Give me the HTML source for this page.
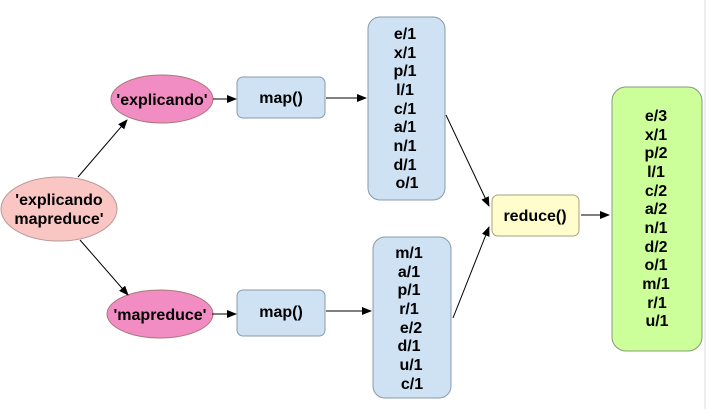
<!DOCTYPE html>
<html><head><style>
body{margin:0;background:#fff;width:710px;height:409px;overflow:hidden;font-family:"Liberation Sans",sans-serif;}
</style></head><body>
<svg width="710" height="409" xmlns="http://www.w3.org/2000/svg" font-family="Liberation Sans, sans-serif" font-weight="bold" font-size="16">
<defs><marker id="a" markerWidth="10" markerHeight="8" refX="9" refY="4" orient="auto" markerUnits="userSpaceOnUse"><path d="M0,0 L10,4 L0,8 z" fill="#000"/></marker></defs>
<line x1="705" y1="0" x2="705" y2="409" stroke="#ddd"/>
<ellipse cx="59" cy="209" rx="58" ry="32" fill="#f9c6c4" stroke="#b99"/>
<text x="59" y="205" text-anchor="middle">'explicando</text>
<text x="59" y="224" text-anchor="middle">mapreduce'</text>
<ellipse cx="162" cy="99" rx="51" ry="24" fill="#f28dc3" stroke="#a77"/>
<text x="162" y="105" text-anchor="middle">'explicando'</text>
<ellipse cx="160" cy="314" rx="53" ry="24" fill="#f28dc3" stroke="#a77"/>
<text x="160" y="320" text-anchor="middle">'mapreduce'</text>
<rect x="237" y="77" width="88" height="41" rx="6" fill="#cfe2f3" stroke="#8899aa"/>
<text x="281" y="103" text-anchor="middle">map()</text>
<rect x="237" y="290" width="88" height="46" rx="6" fill="#cfe2f3" stroke="#8899aa"/>
<text x="281" y="317" text-anchor="middle">map()</text>
<rect x="368" y="17" width="77" height="183" rx="12" fill="#cfe2f3" stroke="#8899aa"/>
<g text-anchor="middle">
<text x="405" y="39">e/1</text><text x="405" y="58">x/1</text><text x="405" y="76">p/1</text><text x="405" y="95">l/1</text><text x="405" y="114">c/1</text><text x="405" y="132">a/1</text><text x="405" y="151">n/1</text><text x="405" y="170">d/1</text><text x="407" y="188">o/1</text>
</g>
<rect x="373" y="237" width="78" height="161" rx="12" fill="#cfe2f3" stroke="#8899aa"/>
<g text-anchor="middle">
<text x="409" y="258">m/1</text><text x="409" y="277">a/1</text><text x="409" y="295">p/1</text><text x="409" y="314">r/1</text><text x="411" y="333">e/2</text><text x="409" y="351">d/1</text><text x="411" y="370">u/1</text><text x="412" y="389">c/1</text>
</g>
<rect x="492" y="195" width="87" height="41" rx="6" fill="#fffdcc" stroke="#aaa080"/>
<text x="535" y="221" text-anchor="middle">reduce()</text>
<rect x="612" y="87" width="90" height="264" rx="14" fill="#ccff99" stroke="#889977"/>
<g text-anchor="middle">
<text x="656" y="121">e/3</text><text x="656" y="140">x/1</text><text x="656" y="158">p/2</text><text x="656" y="177">l/1</text><text x="656" y="196">c/2</text><text x="656" y="214">a/2</text><text x="656" y="233">n/1</text><text x="656" y="252">d/2</text><text x="656" y="270">o/1</text><text x="656" y="289">m/1</text><text x="657" y="308">r/1</text><text x="657" y="326">u/1</text>
</g>
<g stroke="#000" stroke-width="1" marker-end="url(#a)">
<line x1="78" y1="177" x2="127" y2="120"/>
<line x1="80" y1="240" x2="128" y2="295"/>
<line x1="213" y1="99" x2="236" y2="99"/>
<line x1="212" y1="314" x2="236" y2="314"/>
<line x1="326" y1="98" x2="366" y2="98"/>
<line x1="326" y1="311" x2="371" y2="311"/>
<line x1="446" y1="115" x2="489" y2="206"/>
<line x1="453" y1="318" x2="489" y2="227"/>
<line x1="581" y1="215" x2="609" y2="215"/>
</g>
</svg>
</body></html>
